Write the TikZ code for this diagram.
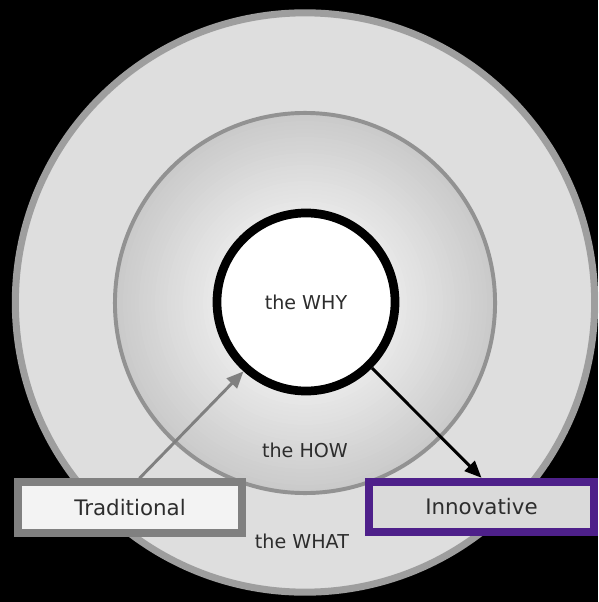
\documentclass[tikz,border=0pt]{standalone}
\usepackage{fontspec}
\setmainfont{DejaVu Sans}
\usepackage{xcolor}
\usepackage{tikz}
\usetikzlibrary{shapes,arrows.meta,positioning}
\definecolor{whatfill}{RGB}{222, 222, 222}
\definecolor{whatline}{RGB}{158, 158, 158}
\definecolor{howline}{RGB}{146, 146, 146}
\definecolor{howin}{RGB}{233, 233, 233}
\definecolor{howout}{RGB}{202, 202, 202}
\definecolor{tradline}{RGB}{128, 128, 128}
\definecolor{tradfill}{RGB}{243, 243, 243}
\definecolor{innoline}{RGB}{78, 32, 138}
\definecolor{innofill}{RGB}{218, 218, 218}
\definecolor{labeltext}{RGB}{45, 45, 45}

\begin{document}
\begin{tikzpicture}[x=0.025cm, y=-0.025cm, >=stealth,
    ring/.style={circle, inner sep=0pt},
    ringlabel/.style={font=\fontsize{13.6}{16}\selectfont, text=labeltext},
    boxlabel/.style={draw, rectangle, line width=5.7pt, minimum width=5.6cm, minimum height=1.26cm, font=\fontsize{15.2}{18}\selectfont, text=labeltext},
    arrowtip/.style={-{Triangle[length=12pt, width=10pt]}, line width=2.1pt}]
        \useasboundingbox[fill=black] (0,0) rectangle (598,602);

        % circles
        \node[ring, draw=whatline, fill=whatfill, line width=5pt, minimum size=14.48cm] (what) at (305,302.5) {};
        % gradient of the HOW ring
        \foreach \r in {190,186,...,90} {
            \pgfmathsetmacro\mix{max(0,min(100,(\r-92)/98*100))}
            \fill[howout!\mix!howin] (305,303) circle (\r);
        }
        \node[ring, draw=howline, line width=2.8pt, minimum size=9.5cm] (how) at (305,303) {};
        \node[ring, draw=black, fill=white, line width=6.2pt, minimum size=4.45cm, ringlabel] (why) at (306,302) {the WHY};
        \node[ringlabel] (howtext) at (305,450) {the HOW};
        \node[ringlabel] (whattext) at (302,541) {the WHAT};

        % boxes
        \node[boxlabel, draw=tradline, fill=tradfill] (trad) at (130,507.5) {Traditional};
        \node[boxlabel, draw=innoline, fill=innofill] (inno) at (481.5,507) {Innovative};

        \draw[arrowtip, draw=tradline, fill=tradline] (trad.72) -- (why.228);
        \draw[arrowtip, draw=black, fill=black] (why.315) -- (inno.north);
    \end{tikzpicture}
\end{document}
